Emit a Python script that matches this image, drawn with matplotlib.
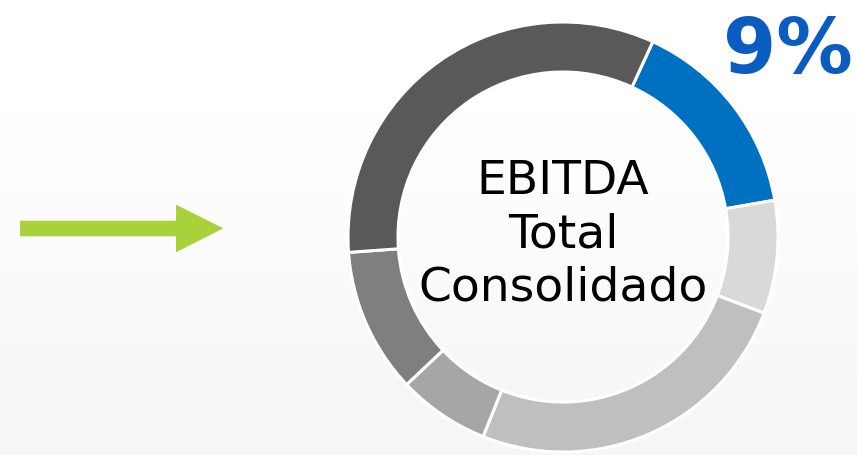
import numpy as np
import matplotlib
matplotlib.use("Agg")
import matplotlib.pyplot as plt
from matplotlib.patches import Polygon

# segment shares (clockwise from the blue one)
segments = ["Destaque", "Seg B", "Seg C", "Seg D", "Seg E", "Seg F"]
shares = [15.4, 8.5, 25.3, 6.9, 10.9, 33.0]
colors = ["#0070c0", "#d9d9d9", "#bfbfbf", "#a6a6a6", "#7f7f7f", "#595959"]
center_lines = ["EBITDA", "Total", "Consolidado"]
highlight_label = "9%"

W, H = 857, 456
fig = plt.figure(figsize=(W / 100, H / 100), dpi=100)
ax = fig.add_axes([0, 0, 1, 1])

# soft vertical background gradient, white on top
t = np.linspace(0, 1, H)
g = 1.0 - 0.035 * np.clip((t - 0.25) / 0.75, 0, 1)
grad = np.repeat(g[:, None], 1, axis=1)
ax.imshow(np.dstack([grad, grad, grad]), extent=[0, W, 0, H], origin="upper",
          aspect="auto", zorder=0)

# donut
cx, cy, r = 563, H - 238, 215
ax.pie(shares, colors=colors, center=(cx, cy), radius=r, startangle=90 - 24.7,
       counterclock=False, frame=True,
       wedgeprops=dict(width=r - 165, edgecolor="white", linewidth=2.2))
ax.set_xlim(0, W)
ax.set_ylim(0, H)
ax.set_aspect("auto")
ax.axis("off")

# centre label
for line, y in zip(center_lines, [182, 235, 288]):
    ax.text(cx, H - y, line, ha="center", va="center", fontsize=34,
            color="#000000", family="DejaVu Sans")

ax.text(788, H - 52, highlight_label, ha="center", va="center", fontsize=55,
        fontweight="heavy", color="#0a5cc0", family="DejaVu Sans")

# green arrow on the left
arrow = Polygon([(20, H - 221.7), (176, H - 221.7), (176, H - 205.7), (223.3, H - 229.3),
                 (176, H - 253.3), (176, H - 237.3), (20, H - 237.3)],
                closed=True, facecolor="#a8d13a", edgecolor="none")
ax.add_patch(arrow)

fig.savefig("out.png", dpi=100)
